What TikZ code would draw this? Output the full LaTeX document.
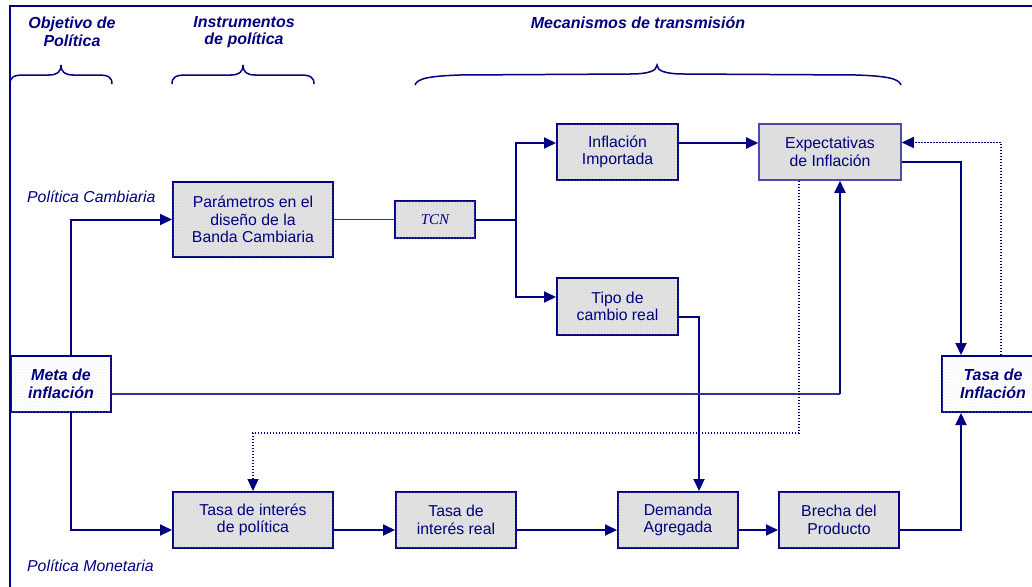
\documentclass[tikz,border=0pt]{standalone}
\usepackage{fontspec}
\setmainfont{Liberation Sans}
\newfontfamily\tnrfont{Liberation Serif}
\usetikzlibrary{arrows.meta,patterns}
\definecolor{mynavy}{RGB}{0,0,128}
\definecolor{boxgray}{RGB}{222,222,222}
\begin{document}
\begin{tikzpicture}[x=1pt,y=-1pt,
 every node/.style={text=mynavy, font=\fontsize{15.8}{17.5}\selectfont, align=center, inner sep=0pt},
 graybox/.style={draw=mynavy, line width=2pt, fill=boxgray, postaction={pattern=dots, pattern color=white}},
 whitebox/.style={draw=mynavy, line width=2pt, fill=white, postaction={pattern=dots, pattern color=black!15}},
 expbox/.style={draw=mynavy!70, line width=1.6pt, fill=boxgray},
 link/.style={draw=mynavy, line width=2pt},
 arr/.style={link, -{Triangle[length=12pt,width=11pt]}},
 thinlink/.style={draw=mynavy!80, line width=1.3pt},
 dotlink/.style={draw=mynavy, line width=1.2pt, dash pattern=on 1.2pt off 1.8pt},
 dotarr/.style={dotlink, -{Triangle[length=12pt,width=11pt]}},
 bracepath/.style={draw=mynavy, line width=1.5pt},
 head/.style={font=\fontsize{16}{17.5}\selectfont\bfseries\itshape},
 side/.style={font=\fontsize{15.8}{17}\selectfont\itshape, anchor=west}
]
\useasboundingbox (0,0) rectangle (1032,586);
\clip (0,0) rectangle (1032,586);

% frame
\draw[mynavy, line width=2pt] (10,590) -- (10,6) -- (1036,6);

% headers
\node[head] (h1) at (72,32) {Objetivo de\\Política};
\node[head] (h2) at (244,32) {Instrumentos\\de política};
\node[head] (h3) at (638,23) {Mecanismos de transmisión};

% braces
\draw[bracepath] (10,84) .. controls (10,77) and (14,75) .. (24,75) -- (49,75)
  .. controls (57,75) and (61,72) .. (61,65) .. controls (61,72) and (65,75) .. (73,75)
  -- (98,75) .. controls (108,75) and (112,77) .. (112,84);
\draw[bracepath] (172,84) .. controls (172,77) and (176,75) .. (186,75) -- (231,75)
  .. controls (239,75) and (243,72) .. (243,65) .. controls (243,72) and (247,75) .. (255,75)
  -- (300,75) .. controls (310,75) and (314,77) .. (314,84);
\draw[bracepath] (415,85) .. controls (417,78) and (432,76) .. (460,75) -- (630,74)
  .. controls (648,74) and (657,71) .. (657,65) .. controls (657,71) and (666,74) .. (684,74)
  -- (856,75) .. controls (884,76) and (899,78) .. (901,85);

% side labels
\node[side] (s1) at (27,197) {Política Cambiaria};
\node[side] (s2) at (27,566) {Política Monetaria};

% boxes
\node[graybox, minimum width=160pt, minimum height=75pt] (par) at (253,219.5) {Parámetros en el\\diseño de la\\Banda Cambiaria};
\node[graybox, minimum width=80pt, minimum height=37pt, font=\tnrfont\fontsize{15}{17}\selectfont\itshape] (tcn) at (435,219.5) {TCN};
\node[graybox, minimum width=121pt, minimum height=56pt] (imp) at (617.5,152) {Inflación\\Importada};
\node[expbox, minimum width=142pt, minimum height=56pt] (exp) at (830,152) {Expectativas\\de Inflación};
\node[graybox, minimum width=121pt, minimum height=57pt] (tcr) at (617.5,306.5) {Tipo de\\cambio real};
\node[whitebox, minimum width=100pt, minimum height=56pt, font=\fontsize{16}{17.5}\selectfont\bfseries\itshape] (meta) at (61,384) {Meta de\\inflación};
\node[whitebox, minimum width=102pt, minimum height=56pt, font=\fontsize{16}{17.5}\selectfont\bfseries\itshape] (tinf) at (993,384) {Tasa de\\Inflación};
\node[graybox, minimum width=160pt, minimum height=56pt] (tip) at (253,520) {Tasa de interés\\de política};
\node[graybox, minimum width=120pt, minimum height=56pt] (tir) at (456,520) {Tasa de\\interés real};
\node[graybox, minimum width=120pt, minimum height=56pt] (dem) at (678,520) {Demanda\\Agregada};
\node[graybox, minimum width=120pt, minimum height=56pt] (bre) at (839,520) {Brecha del\\Producto};

% helper coordinates
\coordinate (br) at (516,219.5);
\coordinate (mc) at (840,394);
\coordinate (dc) at (799,433);

% connectors
\draw[arr] ([xshift=10pt]meta.north) |- (par.west);
\draw[arr] ([xshift=10pt]meta.south) |- ([yshift=-10pt]tip.west);
\draw[thinlink] (par.east) -- (tcn.west);
\draw[link] (tcn.east) -- (br);
\draw[arr] (br) |- ([yshift=9pt]imp.west);
\draw[arr] (br) |- ([yshift=9.5pt]tcr.west);
\draw[arr] ([yshift=9pt]imp.east) -- ([yshift=9pt]exp.west);
\draw[arr] ([yshift=-10pt]exp.east) -| ([xshift=-32pt]tinf.north);
\draw[dotarr] ([xshift=8pt]tinf.north) |- ([yshift=9.5pt]exp.east);
\draw[arr] ([yshift=-10.5pt]tcr.east) -| ([xshift=21pt]dem.north);
\draw[thinlink] ([yshift=-10pt]meta.east) -- (mc);
\draw[arr] (mc) -- ([xshift=10pt]exp.south);
\draw[dotlink] ([xshift=-31pt]exp.south) -- (dc);
\draw[dotarr] (dc) -| (tip.north);
\draw[arr] ([yshift=-10pt]tip.east) -- ([yshift=-10pt]tir.west);
\draw[arr] ([yshift=-10pt]tir.east) -- ([yshift=-10pt]dem.west);
\draw[arr] ([yshift=-10pt]dem.east) -- ([yshift=-10pt]bre.west);
\draw[arr] ([yshift=-10pt]bre.east) -| ([xshift=-32pt]tinf.south);
\end{tikzpicture}
\end{document}
